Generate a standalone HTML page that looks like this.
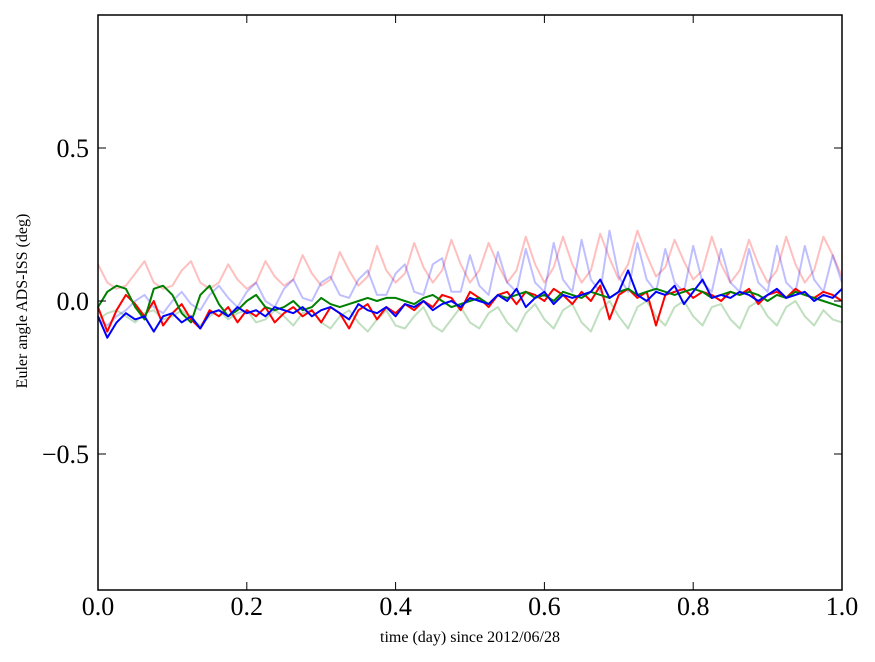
<!DOCTYPE html>
<html><head><meta charset="utf-8"><style>
body{margin:0;background:#fff;}
svg{display:block;font-family:"Liberation Serif",serif;}
</style></head><body>
<svg id="chart" width="875" height="662">
<rect x="0" y="0" width="875" height="662" fill="#fff"/>
<g id="series"></g>
<rect x="98" y="15" width="744" height="575" fill="none" stroke="#000" stroke-width="1.5"/>
<g id="axes"></g>
<text x="470" y="642" font-size="16" text-anchor="middle">time (day) since 2012/06/28</text>
<text x="27" y="301" font-size="16" text-anchor="middle" transform="rotate(-90 27 301)">Euler angle ADS-ISS (deg)</text>
</svg>
<script>
const xTicks=[0,0.2,0.4,0.6,0.8,1.0];
const xTickLabels=["0.0","0.2","0.4","0.6","0.8","1.0"];
const yTicks=[-0.5,0,0.5];
const yTickLabels=["\u22120.5","0.0","0.5"];
const pinkVals=[0.12,0.06,0.04,0.05,0.09,0.13,0.06,0.04,0.05,0.10,0.13,0.06,0.04,0.06,0.12,0.07,0.04,0.06,0.13,0.08,0.05,0.07,0.15,0.09,0.05,0.07,0.16,0.10,0.05,0.08,0.18,0.10,0.06,0.09,0.19,0.11,0.06,0.10,0.20,0.12,0.06,0.10,0.19,0.12,0.06,0.10,0.21,0.12,0.06,0.11,0.21,0.12,0.06,0.10,0.22,0.14,0.07,0.12,0.23,0.15,0.08,0.11,0.20,0.13,0.07,0.10,0.21,0.12,0.06,0.10,0.20,0.12,0.06,0.10,0.21,0.12,0.06,0.10,0.21,0.15,0.08];
const lightBlueVals=[-0.06,-0.08,-0.05,-0.03,0.00,0.02,-0.02,-0.04,0.00,0.03,-0.01,-0.03,0.02,0.05,0.01,-0.02,0.03,0.06,0.00,-0.02,0.04,0.07,0.01,0.00,0.06,0.08,0.02,0.01,0.07,0.10,0.02,0.02,0.09,0.12,0.03,0.02,0.12,0.14,0.03,0.03,0.15,0.05,0.02,0.16,0.06,0.03,0.17,0.06,0.03,0.19,0.07,0.03,0.20,0.07,0.03,0.23,0.08,0.03,0.19,0.07,0.03,0.17,0.06,0.03,0.18,0.06,0.03,0.17,0.06,0.03,0.17,0.06,0.03,0.18,0.06,0.03,0.18,0.07,0.03,0.15,0.06];
const lightGreenVals=[-0.06,-0.04,-0.03,-0.05,-0.07,-0.04,-0.03,-0.06,-0.05,-0.03,-0.06,-0.08,-0.05,-0.03,-0.06,-0.04,-0.03,-0.07,-0.06,-0.03,-0.05,-0.08,-0.04,-0.03,-0.07,-0.09,-0.05,-0.03,-0.07,-0.10,-0.06,-0.03,-0.08,-0.09,-0.05,-0.02,-0.08,-0.10,-0.06,-0.02,-0.07,-0.09,-0.04,-0.02,-0.07,-0.10,-0.04,-0.01,-0.06,-0.09,-0.03,-0.01,-0.07,-0.10,-0.03,0.00,-0.05,-0.09,-0.02,0.00,-0.05,-0.08,-0.02,0.00,-0.05,-0.08,-0.02,-0.01,-0.06,-0.09,-0.02,0.00,-0.05,-0.08,-0.02,0.00,-0.05,-0.08,-0.03,-0.06,-0.07];
const redVals=[-0.02,-0.10,-0.03,0.02,-0.01,-0.05,0.00,-0.08,-0.04,-0.01,-0.06,-0.09,-0.03,-0.05,-0.02,-0.07,-0.03,-0.05,-0.02,-0.07,-0.04,-0.02,-0.05,-0.03,-0.07,-0.02,-0.04,-0.09,-0.03,-0.01,-0.06,-0.02,-0.04,-0.01,-0.03,0.00,-0.02,0.02,0.01,-0.03,0.03,0.01,-0.02,0.02,0.03,-0.01,0.03,0.02,0.00,0.04,0.02,-0.01,0.03,0.00,0.05,-0.06,0.02,0.04,0.01,0.03,-0.08,0.02,0.03,0.04,0.01,0.03,0.02,0.00,0.03,0.02,0.04,-0.01,0.02,0.03,0.01,0.04,0.02,0.01,0.03,0.02,0.00];
const greenVals=[-0.02,0.03,0.05,0.04,-0.02,-0.06,0.04,0.05,0.02,-0.04,-0.07,0.02,0.05,-0.01,-0.05,-0.03,0.00,0.02,-0.02,-0.03,-0.02,0.00,-0.03,-0.02,0.01,-0.01,-0.02,-0.01,0.00,0.01,0.00,0.01,0.01,0.00,-0.01,0.01,0.02,0.00,-0.02,-0.01,0.00,0.01,-0.01,0.02,0.01,0.02,0.03,0.01,0.02,0.00,0.03,0.02,0.01,0.03,0.02,0.01,0.03,0.04,0.02,0.03,0.04,0.03,0.02,0.03,0.04,0.03,0.01,0.02,0.03,0.02,0.03,0.02,0.00,0.02,0.01,0.03,0.02,0.01,0.00,-0.01,-0.02];
const blueVals=[-0.05,-0.12,-0.07,-0.04,-0.06,-0.05,-0.10,-0.05,-0.04,-0.07,-0.05,-0.09,-0.04,-0.03,-0.05,-0.02,-0.04,-0.03,-0.05,-0.02,-0.03,-0.04,-0.02,-0.05,-0.03,-0.02,-0.04,-0.06,-0.01,-0.03,-0.04,-0.02,-0.05,-0.01,-0.02,0.00,-0.03,-0.01,0.00,-0.02,0.01,0.00,-0.01,0.02,0.00,0.04,-0.02,0.01,0.03,-0.01,0.02,0.01,0.02,0.03,0.07,0.01,0.03,0.10,0.02,0.00,0.03,0.02,0.05,-0.01,0.03,0.07,0.01,0.02,0.01,0.03,0.02,0.00,0.02,0.04,0.01,0.02,0.03,0.00,0.02,0.01,0.04];

const NS="http://www.w3.org/2000/svg";
const X0=98,X1=842,Y0=301,YS=306;
function xs(v){return X0+(X1-X0)*v;}
function ys(v){return Y0-YS*v;}
const sg=document.getElementById('series');
function line(vals,color,op,w,name){
  const n=vals.length;
  const d=vals.map((v,i)=>(i?'L':'M')+xs(i/(n-1)).toFixed(1)+','+ys(v).toFixed(1)).join('');
  const p=document.createElementNS(NS,'path');
  p.setAttribute('d',d);p.setAttribute('fill','none');p.setAttribute('stroke',color);
  p.setAttribute('stroke-opacity',op);p.setAttribute('stroke-width',w);p.setAttribute('stroke-linejoin','round');
  
  
  sg.appendChild(p);
}
line(pinkVals,'#ff0000',0.25,2,'series-red-light');
line(lightBlueVals,'#0000ff',0.25,2,'series-blue-light');
line(lightGreenVals,'#008000',0.25,2,'series-green-light');
line(redVals,'#ff0000',1,2,'series-red');
line(greenVals,'#008000',1,2,'series-green');
line(blueVals,'#0000ff',1,2,'series-blue');

const ag=document.getElementById('axes');
function el(tag,attrs,txt){const e=document.createElementNS(NS,tag);for(const k in attrs)e.setAttribute(k,attrs[k]);if(txt!==undefined)e.textContent=txt;ag.appendChild(e);return e;}
xTicks.forEach((t,i)=>{
  const x=xs(t);
  const a=el('line',{x1:x,x2:x,y1:590,y2:582,stroke:'#000'});
  
  
  const b=el('line',{x1:x,x2:x,y1:15,y2:23,stroke:'#000'});
  
  
  const l=el('text',{x:x,y:615,'font-size':26,'text-anchor':'middle'},xTickLabels[i]);
  
  
});
yTicks.forEach((t,i)=>{
  const y=ys(t);
  const a=el('line',{x1:98,x2:106,y1:y,y2:y,stroke:'#000'});
  
  
  const b=el('line',{x1:842,x2:834,y1:y,y2:y,stroke:'#000'});
  
  
  const l=el('text',{x:89,y:y+9,'font-size':26,'text-anchor':'end'},yTickLabels[i]);
  
  
});
</script>
</body></html>
